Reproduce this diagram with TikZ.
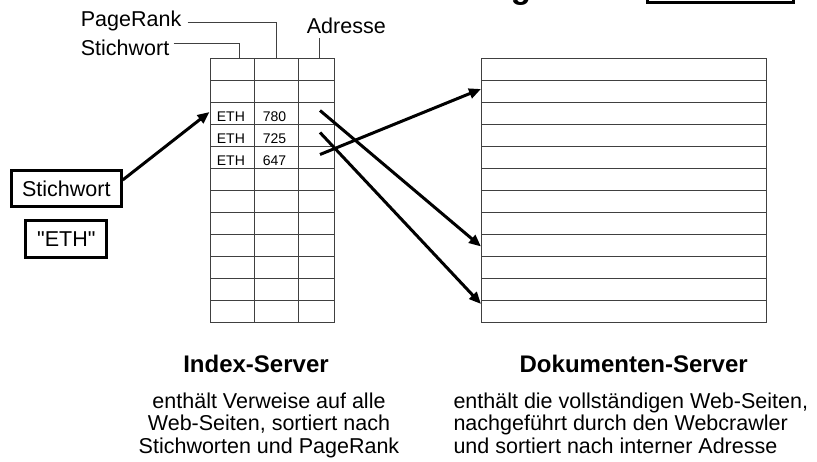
\documentclass[tikz,border=0pt]{standalone}
\usepackage{fontspec}
\setmainfont{Liberation Sans}
\newfontfamily\qfont{Liberation Sans}[Ligatures=ResetAll]
\usetikzlibrary{arrows.meta}

\begin{document}
\begin{tikzpicture}[x=1pt,y=-1pt,
    grid/.style={draw=black!75,line width=0.9pt},
    lbl/.style={font=\fontsize{21.5}{22}\selectfont,inner sep=0pt},
    cell/.style={font=\fontsize{14}{14}\selectfont,inner sep=0pt,anchor=base west},
    head/.style={font=\fontsize{24}{24}\selectfont\bfseries,inner sep=0pt,anchor=base},
    kwbox/.style={draw,line width=3pt,inner sep=0pt,font=\fontsize{21.5}{22}\selectfont},
    arr/.style={line width=3pt,-{Triangle[length=12pt,width=10pt]}}]
  \useasboundingbox (0,0) rectangle (817,462);
  \clip (0,0) rectangle (817,462);

  % cut-off title above
  \node[font=\fontsize{33}{33}\selectfont\bfseries,inner sep=0pt,anchor=base] (ttl) at (521,-1) {g};
  \node[draw,line width=3pt,minimum width=146.7pt,minimum height=30pt,inner sep=0pt] (tbox) at (720.6,-12.5) {};

  % index table
  \draw[grid] (210,58.5) rectangle (334,322.5);
  \foreach \r in {1,...,11}
    \draw[grid] (210,{58.5+22*\r}) -- (334,{58.5+22*\r});
  \draw[grid] (254,58.5) -- (254,322.5);
  \draw[grid] (298,58.5) -- (298,322.5);
  \foreach \v [count=\i] in {780,725,647} {
    \node[cell] (eth\i) at (216.7,{58.5+22*(\i+2)-3}) {ETH};
    \node[cell] (pr\i) at (262.7,{58.5+22*(\i+2)-3}) {\v};
    \coordinate (adr\i) at (320,{58.5+22*(\i+1)+8});
  }
  \coordinate (tsw) at (239.3,58.5);
  \coordinate (tpr) at (276,58.5);
  \coordinate (tadr) at (319.3,58.5);
  \coordinate (ix3) at (209.5,112);

  % column labels
  \node[lbl,anchor=base west] (lpr) at (80.7,26.7) {PageRank};
  \node[lbl,anchor=base west] (lsw) at (80.7,56) {Stichwort};
  \node[lbl,anchor=base west] (ladr) at (306.7,33.3) {Adresse};
  \draw[grid] ([xshift=6pt,yshift=-1.6pt]lpr.east) -| (tpr);
  \draw[grid] ([xshift=4pt,yshift=5pt]lsw.east) -| (tsw);
  \draw[grid] (tadr) -- ([yshift=-4.4pt]ladr.south -| tadr);

  % document table
  \draw[grid] (481,58.5) rectangle (766,322.5);
  \foreach \r in {1,...,11}
    \draw[grid] (481,{58.5+22*\r}) -- (766,{58.5+22*\r});
  \coordinate (dok2) at (481,89);
  \coordinate (dok9) at (481,246.5);
  \coordinate (dok12) at (481,304);

  % query
  \node[kwbox,minimum width=109.7pt,minimum height=35.4pt] (kw) at (66.35,188.5) {Stichwort};
  \node[kwbox,minimum width=81pt,minimum height=36.7pt] (eth) at (66.3,239.2) {\qfont"ETH"};

  \draw[arr] ([yshift=8.5pt]kw.east) -- (ix3);
  \draw[arr] (adr1) -- (dok9);
  \draw[arr] (adr2) -- (dok12);
  \draw[arr] (adr3) -- (dok2);

  % captions
  \node[head] (idx) at (256,373) {Index-Server};
  \node[head] (dok) at (633.7,373) {Dokumenten-Server};
  \node[lbl,anchor=base,align=center] (idxtxt) at (269,453)
    {enthält Verweise auf alle\\Web-Seiten, sortiert nach\\Stichworten und PageRank};
  \node[lbl,anchor=base west,align=left] (doktxt) at (453.3,453)
    {enthält die vollständigen Web-Seiten,\\nachgeführt durch den Webcrawler\\und sortiert nach interner Adresse};
\end{tikzpicture}
\end{document}
